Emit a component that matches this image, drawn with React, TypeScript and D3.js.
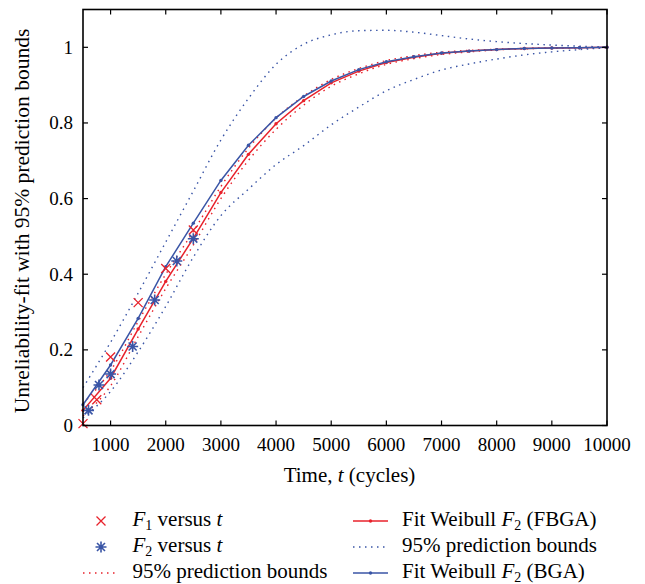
import React from 'react';
import * as d3 from 'd3';

// time grid of the fitted curves (cycles)
const fitTimes = [500, 1000, 1500, 2000, 2500, 3000, 3500, 4000, 4500, 5000, 5500, 6000, 6500, 7000, 7500, 8000, 8500, 9000, 9500, 10000];
// Weibull fit F2 (FBGA) and its 95% prediction bounds
const redFit = [0.040, 0.125, 0.255, 0.381, 0.495, 0.616, 0.717, 0.798, 0.859, 0.906, 0.937, 0.960, 0.974, 0.984, 0.990, 0.994, 0.997, 0.998, 0.999, 1.000];
const redUpper = [0.058, 0.145, 0.275, 0.400, 0.513, 0.632, 0.733, 0.813, 0.871, 0.915, 0.944, 0.965, 0.978, 0.987, 0.992, 0.995, 0.997, 0.998, 0.999, 1.000];
const redLower = [0.025, 0.105, 0.235, 0.362, 0.477, 0.600, 0.701, 0.783, 0.847, 0.897, 0.930, 0.955, 0.970, 0.981, 0.988, 0.993, 0.996, 0.998, 0.999, 0.999];
// Weibull fit F2 (BGA) and its 95% prediction bounds
const blueFit = [0.055, 0.160, 0.283, 0.420, 0.535, 0.648, 0.741, 0.814, 0.870, 0.911, 0.941, 0.962, 0.975, 0.985, 0.990, 0.994, 0.997, 0.998, 0.999, 1.000];
const blueUpper = [0.100, 0.220, 0.350, 0.485, 0.620, 0.755, 0.865, 0.955, 1.008, 1.033, 1.044, 1.045, 1.040, 1.031, 1.022, 1.015, 1.010, 1.006, 1.003, 1.001];
const blueLower = [0.020, 0.090, 0.195, 0.315, 0.445, 0.555, 0.625, 0.690, 0.740, 0.795, 0.842, 0.885, 0.915, 0.940, 0.956, 0.969, 0.980, 0.988, 0.994, 0.999];
// observed points
const f1Times = [500, 750, 1000, 1500, 2000, 2500];
const f1Values = [0.005, 0.068, 0.181, 0.325, 0.415, 0.517];
const f2Times = [600, 790, 1000, 1400, 1800, 2200, 2500];
const f2Values = [0.040, 0.107, 0.136, 0.209, 0.332, 0.435, 0.494];
// ticks
const xTicks = [1000, 2000, 3000, 4000, 5000, 6000, 7000, 8000, 9000, 10000];
const yTicks = [0, 0.2, 0.4, 0.6, 0.8, 1];

const RED = '#e8222b';
const BLUE = '#3a55a6';
const FONT = "'Liberation Serif', 'DejaVu Serif', serif";

const x = d3.scaleLinear().domain([500, 10000]).range([83, 607]);
const y = d3.scaleLinear().domain([0, 1.1]).range([425.5, 9.5]);

const straight = d3.line<number>().x((d, i) => x(fitTimes[i])).y(d => y(d));
const smooth = d3.line<number>().x((d, i) => x(fitTimes[i])).y(d => y(d)).curve(d3.curveMonotoneX);

const crossPath = 'M-4.5,-4.5L4.5,4.5M-4.5,4.5L4.5,-4.5';
const starPath = 'M-5.5,0L5.5,0M0,-5.5L0,5.5M-4,-4L4,4M-4,4L4,-4';

const DOTS = '1.5 4.5';

const Sub = ({ s }: { s: string }) => (
  <>
    <tspan fontStyle="italic">F</tspan>
    <tspan fontSize="14" dy="4">{s}</tspan>
    <tspan dy="-4"> </tspan>
  </>
);

export default function App() {
  const [x0, x1] = x.range();
  const [y0, y1] = y.range();
  return (
    <svg width={645} height={584} style={{ position: 'absolute', left: 0, top: 0, background: '#fff', fontFamily: FONT }}>
      {/* bounds and fits */}
      <path d={smooth(redUpper) || ''} fill="none" stroke={RED} strokeWidth={1.4} strokeDasharray={DOTS} />
      <path d={smooth(redLower) || ''} fill="none" stroke={RED} strokeWidth={1.4} strokeDasharray={DOTS} />
      <path d={straight(redFit) || ''} fill="none" stroke={RED} strokeWidth={1.5} />
      {redFit.map((d, i) => <circle key={'r' + i} cx={x(fitTimes[i])} cy={y(d)} r={1.7} fill={RED} />)}
      <path d={smooth(blueUpper) || ''} fill="none" stroke={BLUE} strokeWidth={1.4} strokeDasharray={DOTS} />
      <path d={smooth(blueLower) || ''} fill="none" stroke={BLUE} strokeWidth={1.4} strokeDasharray={DOTS} />
      <path d={straight(blueFit) || ''} fill="none" stroke={BLUE} strokeWidth={1.5} />
      {blueFit.map((d, i) => <circle key={'b' + i} cx={x(fitTimes[i])} cy={y(d)} r={1.7} fill={BLUE} />)}

      {/* data points */}
      {f1Values.map((d, i) => (
        <path key={'f1' + i} d={crossPath} transform={`translate(${x(f1Times[i])},${y(d)})`} stroke={RED} strokeWidth={1.3} fill="none" />
      ))}
      {f2Values.map((d, i) => (
        <path key={'f2' + i} d={starPath} transform={`translate(${x(f2Times[i])},${y(d)})`} stroke={BLUE} strokeWidth={1.6} fill="none" />
      ))}

      {/* frame and ticks */}
      <rect x={x0} y={y1} width={x1 - x0} height={y0 - y1} fill="none" stroke="#000" strokeWidth={1.6} />
      {xTicks.map(t => (
        <g key={'xt' + t}>
          <line x1={x(t)} x2={x(t)} y1={y0} y2={y0 - 5} stroke="#000" strokeWidth={1.2} />
          <line x1={x(t)} x2={x(t)} y1={y1} y2={y1 + 5} stroke="#000" strokeWidth={1.2} />
          <text x={x(t)} y={451} fontSize={19} textAnchor="middle">{t}</text>
        </g>
      ))}
      {yTicks.map(t => (
        <g key={'yt' + t}>
          <line x1={x0} x2={x0 + 5} y1={y(t)} y2={y(t)} stroke="#000" strokeWidth={1.2} />
          <line x1={x1} x2={x1 - 5} y1={y(t)} y2={y(t)} stroke="#000" strokeWidth={1.2} />
          <text x={73} y={y(t) + 6.5} fontSize={19} textAnchor="end">{t}</text>
        </g>
      ))}

      {/* axis titles */}
      <text x={349.5} y={482} fontSize={21} textAnchor="middle">
        Time, <tspan fontStyle="italic">t</tspan> (cycles)
      </text>
      <text transform="translate(29,221) rotate(-90)" fontSize={21.5} textAnchor="middle">
        Unreliability-fit with 95% prediction bounds
      </text>

      {/* legend, left column */}
      <g fontSize={21}>
        <path d={crossPath} transform="translate(101,521)" stroke={RED} strokeWidth={1.3} fill="none" />
        <text x={132.5} y={526}><Sub s="1" />versus <tspan fontStyle="italic">t</tspan></text>
        <path d={starPath} transform="translate(101,547)" stroke={BLUE} strokeWidth={1.6} fill="none" />
        <text x={132.5} y={552}><Sub s="2" />versus <tspan fontStyle="italic">t</tspan></text>
        <line x1={83} x2={119} y1={573} y2={573} stroke={RED} strokeWidth={1.4} strokeDasharray={DOTS} />
        <text x={132.5} y={578}>95% prediction bounds</text>

        {/* right column */}
        <line x1={353} x2={388} y1={521} y2={521} stroke={RED} strokeWidth={1.5} />
        <circle cx={370.5} cy={521} r={1.7} fill={RED} />
        <text x={402} y={526}>Fit Weibull <Sub s="2" />(FBGA)</text>
        <line x1={353} x2={388} y1={547} y2={547} stroke={BLUE} strokeWidth={1.4} strokeDasharray={DOTS} />
        <text x={402} y={552}>95% prediction bounds</text>
        <line x1={353} x2={388} y1={573} y2={573} stroke={BLUE} strokeWidth={1.5} />
        <circle cx={370.5} cy={573} r={1.7} fill={BLUE} />
        <text x={402} y={578}>Fit Weibull <Sub s="2" />(BGA)</text>
      </g>
    </svg>
  );
}
